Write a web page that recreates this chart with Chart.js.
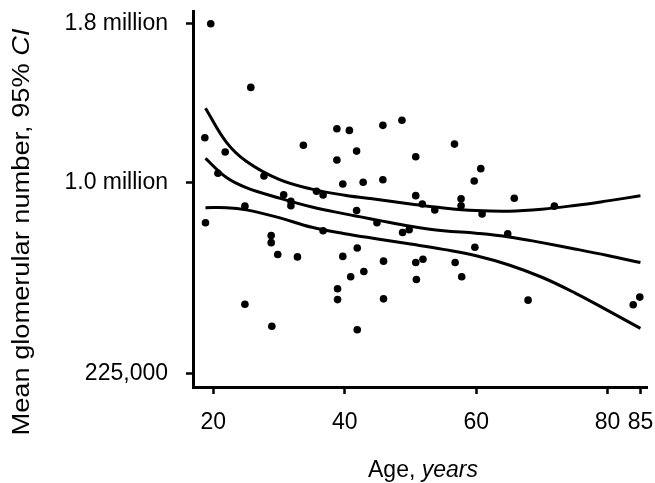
<!DOCTYPE html>
<html>
<head>
<meta charset="utf-8">
<script src="https://cdn.jsdelivr.net/npm/chart.js@4.4.0/dist/chart.umd.min.js"></script>
<style>
  html, body { margin: 0; padding: 0; background: #fff; }
  #wrap { width: 655px; height: 483px; }
</style>
</head>
<body>
<div id="wrap"><canvas id="chart" width="655" height="483"></canvas></div>
<script>
// subjects: age (years) and glomerular number
const ages = [19.6, 25.7, 18.7, 21.8, 20.7, 27.7, 33.7, 38.8, 38.8, 39.7, 30.7, 31.8, 31.8, 35.7, 36.7, 24.8,
  18.8, 36.7, 28.8, 28.8, 29.8, 32.8, 39.7, 38.9, 38.9, 24.8, 28.9, 40.7, 45.8, 48.7, 56.7, 41.8, 50.8, 60.7,
  42.8, 45.8, 59.7, 50.8, 51.8, 53.7, 57.7, 57.7, 60.9, 41.8, 44.9, 48.8, 49.8, 59.8, 41.9, 45.9, 50.8, 51.9,
  56.8, 42.9, 40.9, 50.9, 57.8, 45.9, 41.9, 65.8, 71.9, 64.8, 67.9, 84.9, 83.9];
const glomeruli = [1801000, 1467000, 1215000, 1146000, 1044000, 1031000, 1178000, 1259000, 1107000, 994000,
  944000, 914000, 894000, 960000, 943000, 892000, 817000, 782000, 761000, 730000, 679000, 669000, 671000,
  537000, 494000, 476000, 392000, 1251000, 1276000, 1301000, 1184000, 1150000, 1123000, 1066000, 1002000,
  1014000, 1008000, 940000, 902000, 875000, 926000, 894000, 857000, 872000, 817000, 774000, 786000, 710000,
  707000, 651000, 645000, 659000, 645000, 608000, 586000, 575000, 586000, 497000, 379000, 928000, 892000,
  768000, 492000, 504000, 474000];

// regression line and 95% confidence band
const fitAges = [18.8, 22, 25, 30, 35, 40, 45, 50, 55, 60, 65, 70, 75, 80, 85];
const fitMean = [1115000, 1024000, 977000, 929000, 888000, 857000, 829000, 802000, 782000, 771000, 755000, 730000, 703000, 675000, 645000];
const fitUpper = [1361000, 1192000, 1101000, 1015000, 970000, 942000, 922000, 902000, 884000, 872000, 869000, 878000, 895000, 916000, 939000];
const fitLower = [885000, 885000, 875000, 840000, 797000, 769000, 746000, 724000, 701000, 674000, 635000, 584000, 521000, 452000, 384000];

const yTickValues = [225000, 1000000, 1800000];
const yTickLabels = ['225,000', '1.0 million', '1.8 million'];
const xTickValues = [20, 40, 60, 80, 85];

// the y axis of the original is a power scale
const POWER = 0.76;
const toAxis = v => Math.pow(v / 1e6, POWER);

const FONT = '"Liberation Sans", Arial, Helvetica, sans-serif';

function curve(ys) {
  return fitAges.map((a, i) => ({ x: a, y: toAxis(ys[i]) }));
}

function drawParts(ctx, parts, x, y) {
  let total = 0;
  parts.forEach(p => { ctx.font = p[1] + '23px ' + FONT; total += ctx.measureText(p[0]).width; });
  let cx = x - total / 2;
  parts.forEach(p => {
    ctx.font = p[1] + '23px ' + FONT;
    ctx.fillText(p[0], cx, y);
    cx += ctx.measureText(p[0]).width;
  });
  return total;
}

const axisTitles = {
  id: 'axisTitles',
  afterDraw(chart) {
    const ctx = chart.ctx;
    ctx.save();
    ctx.fillStyle = '#000';
    ctx.textAlign = 'left';
    ctx.textBaseline = 'alphabetic';
    drawParts(ctx, [['Age, ', ''], ['years', 'italic ']], 423, 477);

    const yParts = [['Mean glomerular number, 95% ', ''], ['CI', 'italic ']];
    let w = 0;
    yParts.forEach(p => { ctx.font = p[1] + '23px ' + FONT; w += ctx.measureText(p[0]).width; });
    ctx.translate(29, 232);
    ctx.rotate(-Math.PI / 2);
    ctx.scale(407 / w, 1);
    drawParts(ctx, yParts, 0, 0);
    ctx.restore();
  }
};

const lineStyle = {
  type: 'line',
  borderColor: '#000',
  borderWidth: 3,
  pointRadius: 0,
  fill: false,
  tension: 0.4
};

new Chart(document.getElementById('chart'), {
  type: 'scatter',
  data: {
    datasets: [
      {
        data: ages.map((a, i) => ({ x: a, y: toAxis(glomeruli[i]) })),
        backgroundColor: '#000',
        borderWidth: 0,
        pointRadius: 3.8
      },
      Object.assign({ data: curve(fitUpper) }, lineStyle),
      Object.assign({ data: curve(fitMean) }, lineStyle),
      Object.assign({ data: curve(fitLower) }, lineStyle)
    ]
  },
  options: {
    responsive: false,
    devicePixelRatio: 1,
    animation: false,
    layout: { padding: { top: 11, right: 8, left: 0, bottom: 0 } },
    plugins: { legend: { display: false }, tooltip: { enabled: false } },
    scales: {
      x: {
        type: 'linear',
        min: 16.9,
        max: 86,
        afterBuildTicks: s => { s.ticks = xTickValues.map(v => ({ value: v })); },
        afterFit: s => { s.height = 96; s.paddingLeft = 0; s.paddingRight = 0; },
        ticks: { color: '#000', font: { family: FONT, size: 23 }, padding: 15, maxRotation: 0, autoSkip: false },
        grid: { drawOnChartArea: false, drawTicks: true, tickLength: 7, tickWidth: 2.5, tickColor: '#000' },
        border: { color: '#000', width: 3 }
      },
      y: {
        type: 'linear',
        min: toAxis(183000),
        max: toAxis(1870000),
        afterBuildTicks: s => { s.ticks = yTickValues.map(v => ({ value: toAxis(v) })); },
        afterFit: s => { s.width = 193; s.paddingTop = 0; s.paddingBottom = 0; },
        ticks: {
          color: '#000',
          font: { family: FONT, size: 23 },
          padding: 18,
          autoSkip: false,
          callback: (v, i) => yTickLabels[i]
        },
        grid: { drawOnChartArea: false, drawTicks: true, tickLength: 7, tickWidth: 2.5, tickColor: '#000' },
        border: { color: '#000', width: 3 }
      }
    }
  },
  plugins: [axisTitles]
});
</script>
</body>
</html>
